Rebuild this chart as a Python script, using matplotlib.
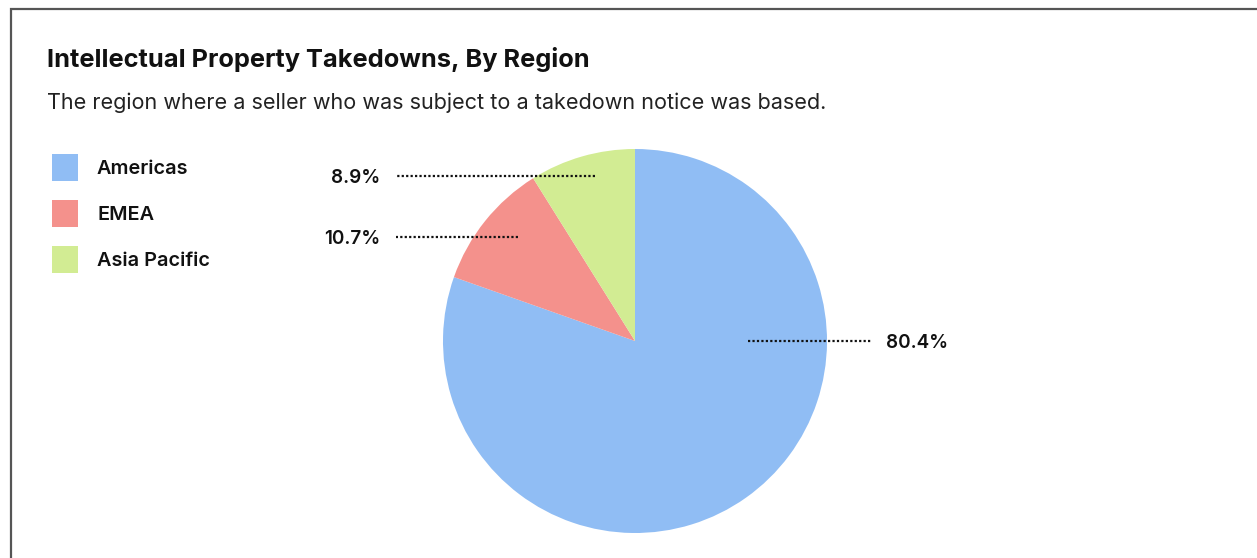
import matplotlib
matplotlib.use("Agg")
import matplotlib.pyplot as plt
from matplotlib.patches import Rectangle
import numpy as np

# ---- data ----
categories = ["Americas", "EMEA", "Asia Pacific"]
values = [80.4, 10.7, 8.9]
value_labels = ["80.4%", "10.7%", "8.9%"]
colors = ["#90BDF4", "#F4918C", "#D2EC93"]

title = "Intellectual Property Takedowns, By Region"
subtitle = "The region where a seller who was subject to a takedown notice was based."

W, H = 1257, 558
DPI = 100
plt.rcParams['font.family'] = ['Inter', 'DejaVu Sans']

fig = plt.figure(figsize=(W / DPI, H / DPI), dpi=DPI)
fig.patch.set_facecolor("white")

def fx(px):
    return px / W

def fy(py):
    return 1 - py / H

# frame (extends beyond image on right/bottom)
fig.patches.append(Rectangle((fx(10.5), fy(H + 50)), fx(W + 100), (H + 50 - 8.5) / H,
                             transform=fig.transFigure, fill=False,
                             edgecolor="#555555", linewidth=1.6, zorder=0))

fig.text(fx(47), fy(59), title, fontsize=18.3, fontweight=700, color="#111111",
         va="center", ha="left")
fig.text(fx(47), fy(103), subtitle, fontsize=15.55, fontweight=400, color="#222222",
         va="center", ha="left")

# legend
leg_y = [168, 213, 259]
for cat, col, y in zip(categories, colors, leg_y):
    fig.patches.append(Rectangle((fx(52), fy(y + 13.5)), fx(26), 27 / H,
                                 transform=fig.transFigure, facecolor=col,
                                 edgecolor="none"))
    fig.text(fx(97), fy(y + 1.5), cat, fontsize=14.3, fontweight=600, color="#111111",
             va="center", ha="left")

# pie
cx, cy, r = 635, 341, 192
ax = fig.add_axes([fx(cx - r), fy(cy + r), 2 * r / W, 2 * r / H])
ax.pie(values, colors=colors, startangle=90, counterclock=False, radius=1,
       wedgeprops=dict(linewidth=0))
ax.set_xlim(-1, 1)
ax.set_ylim(-1, 1)
ax.set_aspect("equal")
ax.axis("off")

# label layout (inner anchor in pie units, side)
anchors = [(0.589, 0.0), (-0.609, 0.542), (-0.208, 0.859)]
sides = [1, -1, -1]
for lab, (axx, ayy), side in zip(value_labels, anchors, sides):
    if side > 0:
        x_line_end = 1.229
        x_text = 1.307
        ha = "left"
    else:
        x_line_end = -1.245
        x_text = -1.328
        ha = "right"
    ax.plot([axx, x_line_end], [ayy, ayy], color="#111111", linewidth=1.6,
            linestyle=(0, (1, 1.0)), dash_capstyle="butt", clip_on=False)
    ax.text(x_text, ayy - 0.009, lab, fontsize=13.6, fontweight=600, color="#111111",
            ha=ha, va="center", clip_on=False)

fig.savefig("out.png", dpi=DPI)
